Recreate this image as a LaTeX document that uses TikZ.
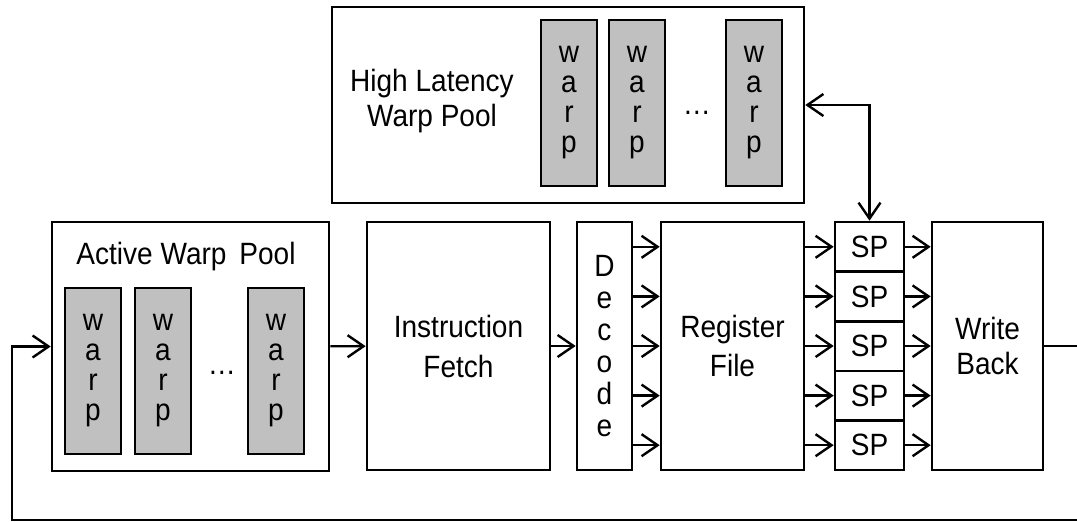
\documentclass[tikz,border=0pt]{standalone}
\usepackage{fontspec}
\setmainfont{Liberation Sans}[FakeStretch=0.91]
\usetikzlibrary{arrows.meta}
\definecolor{warpgray}{HTML}{C0C0C0}
\tikzset{
  >={Straight Barb[length=8pt,width=11pt]},
  every node/.style={font=\fontsize{15.4}{17.5}\selectfont},
  box/.style={draw,line width=1.3pt,fill=white,align=center,inner sep=0pt},
  stagebox/.style={box,minimum height=124pt},
  warpbox/.style={box,fill=warpgray,minimum width=28pt,minimum height=83pt,font=\fontsize{15.4}{15}\selectfont},
  spbox/.style={box,minimum width=34.5pt,minimum height=24.8pt},
  arrow/.style={->,line width=1.2pt},
}

\begin{document}
\begin{tikzpicture}[x=0.5pt,y=-0.5pt]
  \useasboundingbox (0,0) rectangle (1077,521);

  % high latency pool
  \node[box,minimum width=236pt,minimum height=98pt] (hlpool) at (568,105) {};
  \node[align=center] (hltitle) at (432,101) {High Latency\\Warp Pool};
  \node[warpbox] (hlwarpa) at (569,103) {w\\a\\r\\p};
  \node[warpbox] (hlwarpb) at (637,103) {w\\a\\r\\p};
  \node (hldots) at (697,113) {\dots};
  \node[warpbox] (hlwarpc) at (754,103) {w\\a\\r\\p};

  % active pool
  \node[box,minimum width=138.5pt,minimum height=124.5pt] (actpool) at (190.5,346.5) {};
  \node (acttitle) at (186,257) {Active Warp\, Pool};
  \node[warpbox] (actwarpa) at (93,371) {w\\a\\r\\p};
  \node[warpbox] (actwarpb) at (163,371) {w\\a\\r\\p};
  \node (actdots) at (222,373) {\dots};
  \node[warpbox] (actwarpc) at (276,371) {w\\a\\r\\p};

  % pipeline
  \node[stagebox,minimum width=91.5pt,font=\fontsize{15.4}{20}\selectfont] (fetch) at (458.5,346) {Instruction\\Fetch};
  \node[stagebox,minimum width=27.5pt,font=\fontsize{15.4}{16}\selectfont] (decode) at (604.5,346) {D\\e\\c\\o\\d\\e};
  \node[stagebox,minimum width=71.5pt,font=\fontsize{15.4}{19.5}\selectfont] (regfile) at (732.5,346) {Register\\File};
  \foreach \i in {1,...,5}
    \node[spbox] (sp\i) at (869.5,{197.2+49.6*\i}) {SP};
  \node[stagebox,minimum width=55.5pt] (wback) at (987.5,346) {Write\\Back};

  \draw[arrow] (actpool) -- (fetch);
  \draw[arrow] (fetch) -- (decode);
  \foreach \i in {1,...,5} {
    \draw[arrow] (decode.east |- sp\i) -- (regfile.west |- sp\i);
    \draw[arrow] (regfile.east |- sp\i) -- (sp\i.west);
    \draw[arrow] (sp\i.east) -- (wback.west |- sp\i);
  }
  \draw[<->,line width=1.2pt] (hlpool.east) -| (sp1.north);

  % loop back to the active pool
  \coordinate (loopright) at (1095,520);
  \coordinate (loopleft) at (12,520);
  \draw[arrow] (wback.east) -| (loopright) -- (loopleft) |- (actpool.west);
\end{tikzpicture}
\end{document}
